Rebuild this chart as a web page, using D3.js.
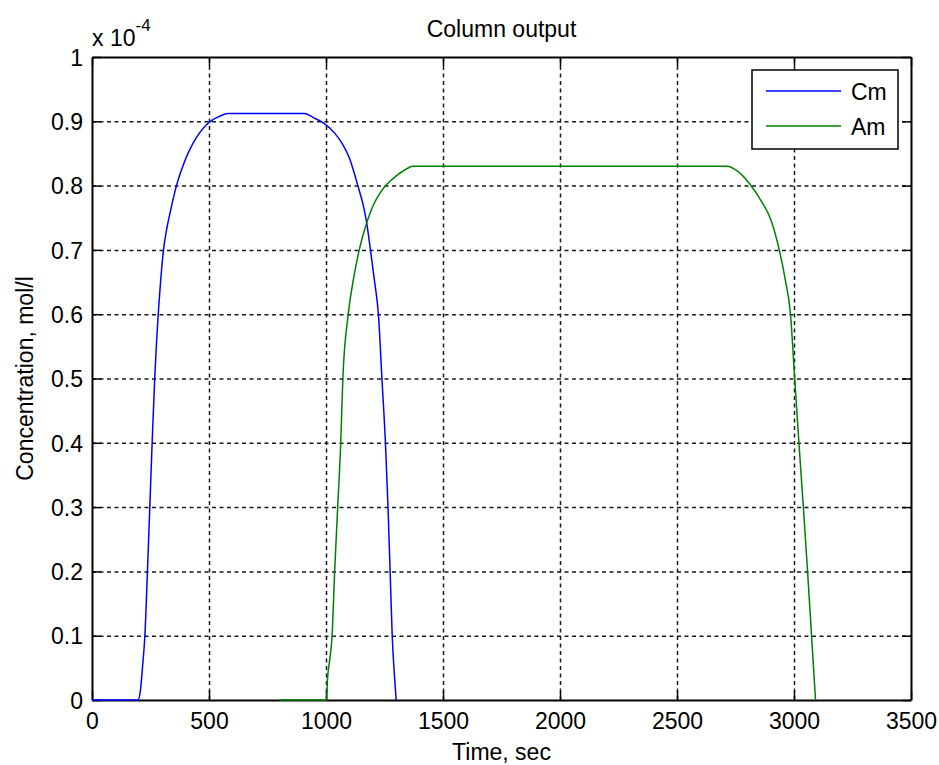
<!DOCTYPE html>
<html>
<head>
<meta charset="utf-8">
<script src="https://cdn.jsdelivr.net/npm/d3@7"></script>
<style>
  html, body { margin: 0; padding: 0; background: #fff; }
  svg { display: block; font-family: "Liberation Sans", Arial, sans-serif; }
</style>
</head>
<body>
<svg id="chart" width="939" height="765"></svg>
<script>
// ---- data (concentration in units of 1e-4 mol/l) ----
const cmTime  = [0, 196, 207, 216, 226, 237, 247, 257, 268, 283, 293, 304, 318, 335, 361, 396, 432, 496, 546, 581, 908, 950, 990, 1036, 1070, 1100, 1136, 1160, 1173, 1190, 1208, 1224, 1239, 1254, 1265, 1274, 1283, 1294, 1300];
const cmValue = [0, 0, 0.015, 0.052, 0.1, 0.2, 0.3, 0.4, 0.5, 0.6, 0.65, 0.695, 0.73, 0.76, 0.8, 0.838, 0.866, 0.897, 0.908, 0.912, 0.912, 0.905, 0.897, 0.882, 0.865, 0.843, 0.8, 0.768, 0.744, 0.7, 0.65, 0.6, 0.5, 0.4, 0.3, 0.2, 0.1, 0.03, 0];
const amTime  = [800, 1003, 1006, 1015, 1026, 1037, 1050, 1063, 1072, 1095, 1120, 1142, 1173, 1200, 1230, 1260, 1300, 1340, 1370, 2712, 2760, 2812, 2860, 2901, 2937, 2962, 2985, 3003, 3021, 3040, 3058, 3075, 3092];
const amValue = [0, 0, 0.03, 0.06, 0.1, 0.2, 0.3, 0.4, 0.5, 0.6, 0.66, 0.7, 0.741, 0.768, 0.788, 0.802, 0.815, 0.825, 0.83, 0.83, 0.822, 0.802, 0.776, 0.747, 0.7, 0.655, 0.6, 0.5, 0.4, 0.3, 0.2, 0.1, 0];
const seriesNames = ["Cm", "Am"];
const seriesColors = ["#0000ff", "#008000"];
const xTicks = [0, 500, 1000, 1500, 2000, 2500, 3000, 3500];
const yTicks = [0, 0.1, 0.2, 0.3, 0.4, 0.5, 0.6, 0.7, 0.8, 0.9, 1];
const titleText = "Column output";
const xLabel = "Time, sec";
const yLabel = "Concentration, mol/l";

// ---- layout ----
const L = 92, R = 911, T = 57, B = 700;
const FS = 23;
const svg = d3.select("#chart");
const x = d3.scaleLinear().domain([0, 3500]).range([L, R]);
const y = d3.scaleLinear().domain([0, 1]).range([B, T]);

// grid
const gridX = svg.append("g").attr("transform", `translate(0,${B})`)
  .call(d3.axisBottom(x).tickValues(xTicks).tickSize(-(B - T)).tickFormat(""));
const gridY = svg.append("g").attr("transform", `translate(${L},0)`)
  .call(d3.axisLeft(y).tickValues(yTicks).tickSize(-(R - L)).tickFormat(""));
[gridX, gridY].forEach(g => {
  g.select(".domain").remove();
  g.selectAll(".tick line").attr("stroke", "#1a1a1a").attr("stroke-width", 1.5).attr("stroke-dasharray", "4,3.5");
  g.selectAll(".tick").filter(d => d === 0 || d === 1 || d === 3500).remove();
});

// axes with inward ticks
const TK = 9;
const fmtY = d3.format("~g");
const axB = svg.append("g").attr("transform", `translate(0,${B})`)
  .call(d3.axisBottom(x).tickValues(xTicks).tickSize(-TK).tickSizeOuter(0).tickFormat(d3.format("d")));
axB.selectAll("text").attr("y", 29).attr("dy", 0);
const axL = svg.append("g").attr("transform", `translate(${L},0)`)
  .call(d3.axisLeft(y).tickValues(yTicks).tickSize(-TK).tickSizeOuter(0).tickFormat(fmtY));
axL.selectAll("text").attr("x", -9).attr("dy", "0.36em");
const axT = svg.append("g").attr("transform", `translate(0,${T})`)
  .call(d3.axisTop(x).tickValues(xTicks).tickSize(-TK).tickSizeOuter(0).tickFormat(""));
const axR = svg.append("g").attr("transform", `translate(${R},0)`)
  .call(d3.axisRight(y).tickValues(yTicks).tickSize(-TK).tickSizeOuter(0).tickFormat(""));
[axB, axL, axT, axR].forEach(g => {
  g.attr("font-family", null).attr("font-size", null);
  g.selectAll("text").attr("fill", "#000").style("font-size", FS + "px");
  g.selectAll("line").attr("stroke", "#000").attr("stroke-width", 1.5);
  g.select(".domain").attr("stroke", "#000").attr("stroke-width", 2);
});

// lines (drawn over the axes, as in the reference)
const line = d3.line().x(d => x(d[0])).y(d => y(d[1])).curve(d3.curveMonotoneX);
const series = [d3.zip(cmTime, cmValue), d3.zip(amTime, amValue)];
series.forEach((s, i) => {
  svg.append("path").datum(s).attr("d", line)
    .attr("fill", "none").attr("stroke", seriesColors[i]).attr("stroke-width", 1.5)
    .attr("stroke-linejoin", "round");
});

// exponent label
const ex = svg.append("text").attr("x", 92).attr("y", 46).style("font-size", FS + "px").attr("fill", "#000");
ex.append("tspan").text("x 10");
ex.append("tspan").attr("dy", -15).style("font-size", "17px").text("-4");

// title and axis labels
svg.append("text").attr("x", (L + R) / 2).attr("y", 37).attr("text-anchor", "middle")
  .style("font-size", FS + "px").attr("fill", "#000").text(titleText);
svg.append("text").attr("x", (L + R) / 2).attr("y", 760).attr("text-anchor", "middle")
  .style("font-size", FS + "px").attr("fill", "#000").text(xLabel);
svg.append("text").attr("transform", `translate(33,${(T + B) / 2}) rotate(-90)`).attr("text-anchor", "middle")
  .style("font-size", FS + "px").attr("fill", "#000").text(yLabel);

// legend
const lg = svg.append("g");
lg.append("rect").attr("x", 752).attr("y", 70).attr("width", 146).attr("height", 79)
  .attr("fill", "#fff").attr("stroke", "#000").attr("stroke-width", 1.5);
seriesNames.forEach((n, i) => {
  const yy = 91 + i * 35;
  lg.append("line").attr("x1", 766).attr("x2", 841).attr("y1", yy).attr("y2", yy)
    .attr("stroke", seriesColors[i]).attr("stroke-width", 1.5);
  lg.append("text").attr("x", 851).attr("y", yy + 9).style("font-size", FS + "px").attr("fill", "#000").text(n);
});
</script>
</body>
</html>
